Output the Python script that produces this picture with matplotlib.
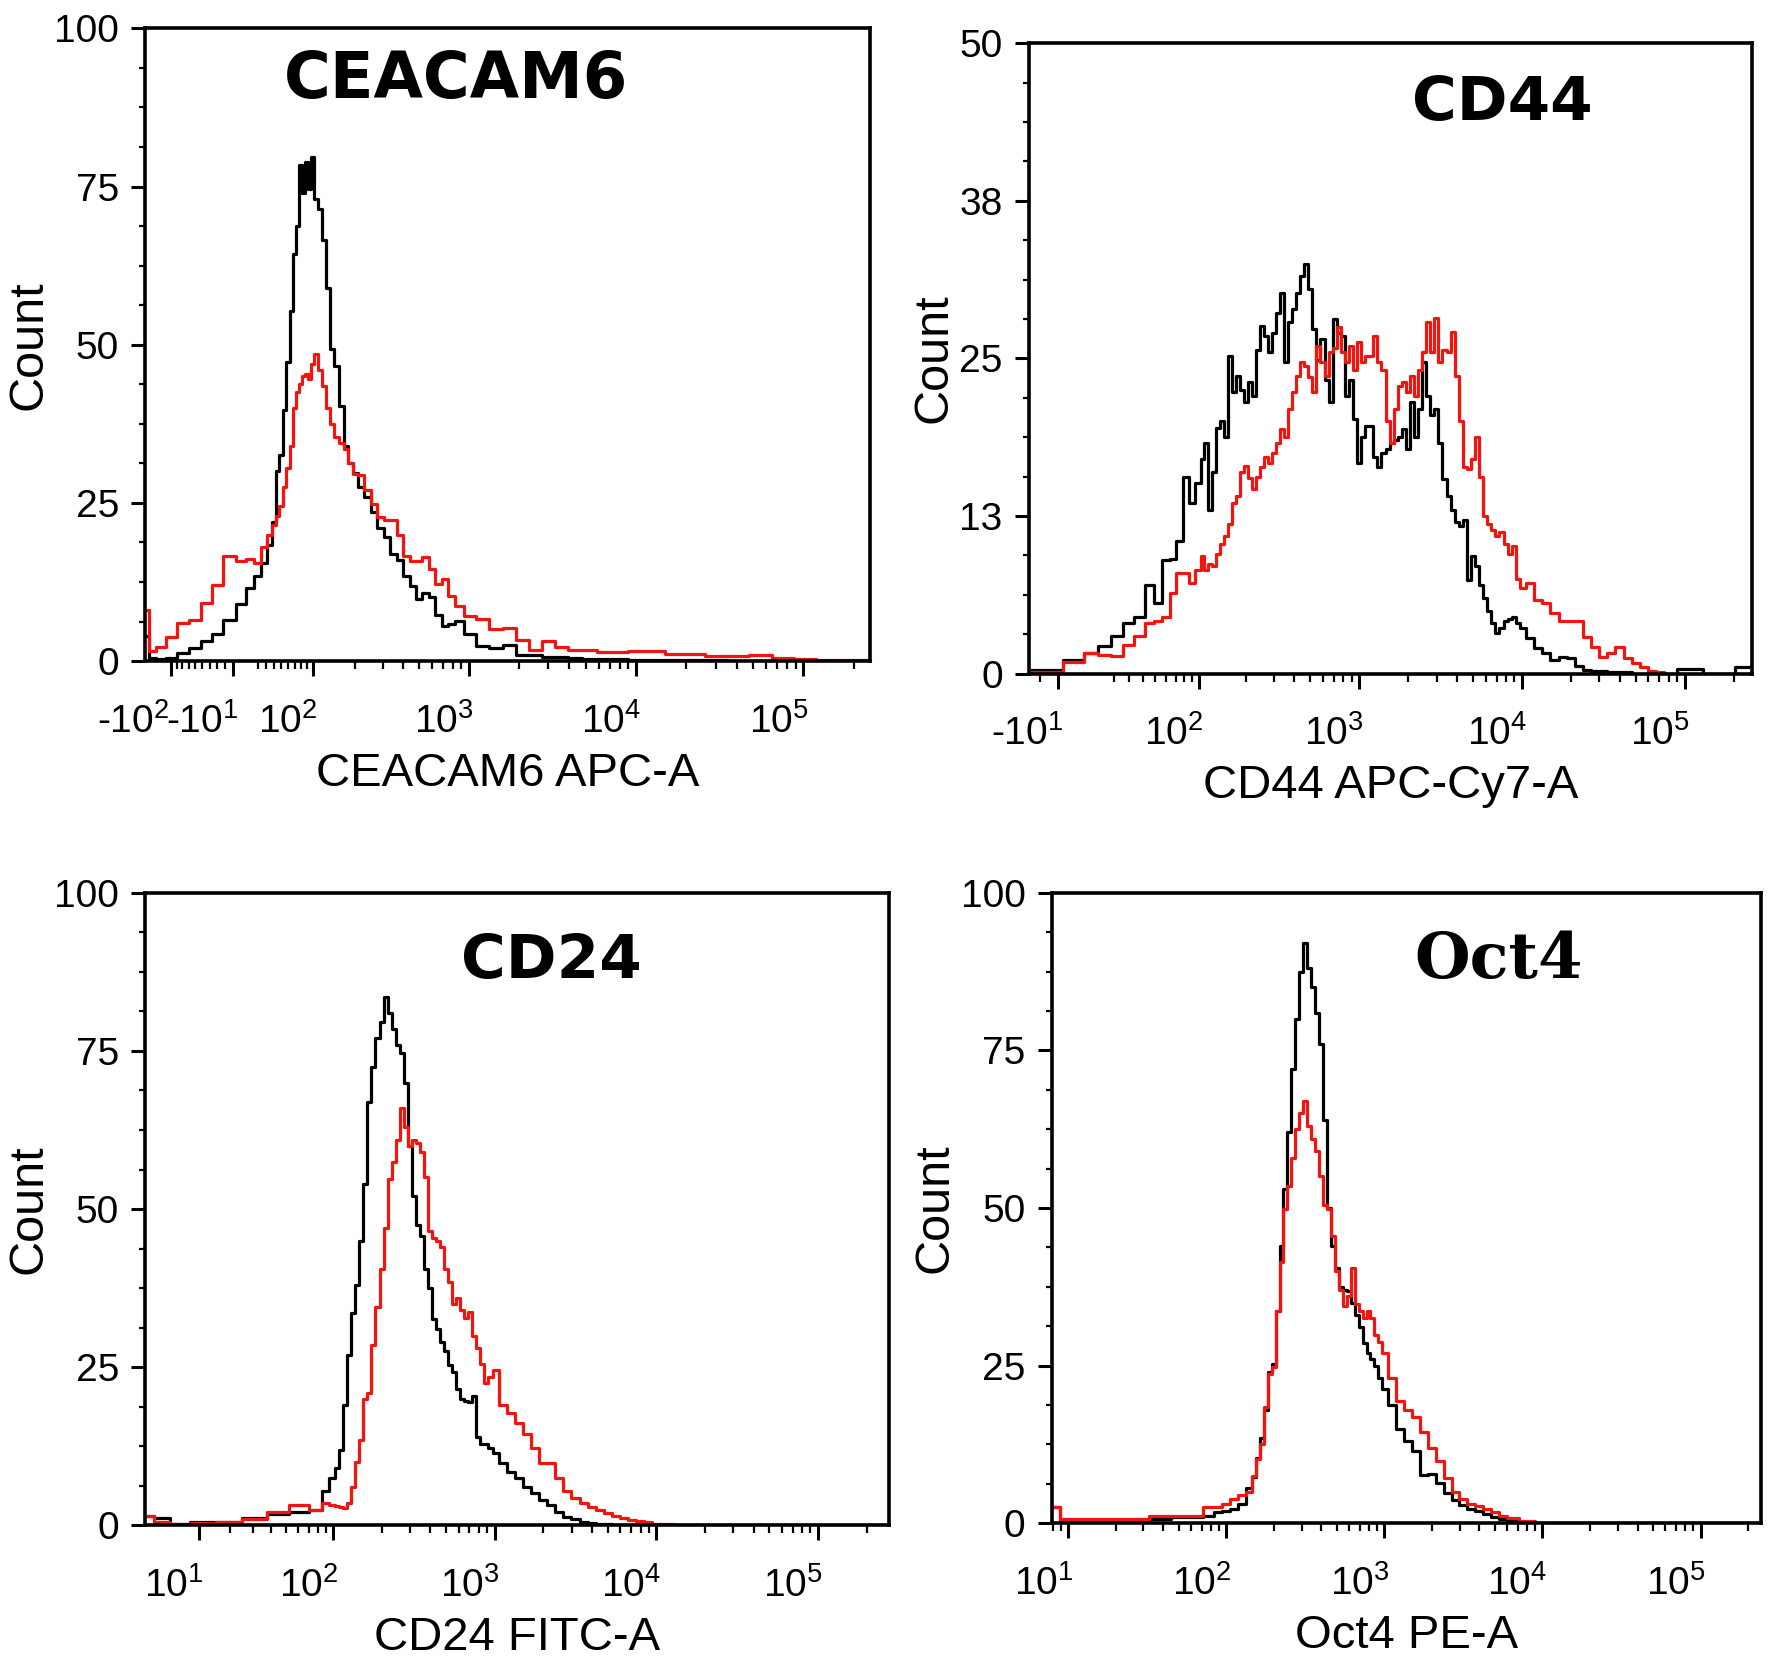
import numpy as np
import matplotlib
matplotlib.use("Agg")
import matplotlib.pyplot as plt
from matplotlib import font_manager
from matplotlib.ticker import AutoMinorLocator, NullFormatter
from matplotlib.transforms import ScaledTranslation

try:
    font_manager.findfont(font_manager.FontProperties(family='Liberation Sans Narrow'),
                          fallback_to_default=False)
    NARROW = True
except Exception:
    NARROW = False

plt.rcParams['font.family'] = ['Liberation Sans', 'DejaVu Sans']
plt.rcParams['mathtext.fontset'] = 'custom'
tick_family = 'Liberation Sans Narrow' if NARROW else 'Liberation Sans'
plt.rcParams['mathtext.rm'] = tick_family
plt.rcParams['mathtext.it'] = tick_family + ':italic'
plt.rcParams['mathtext.bf'] = tick_family + ':bold'
TICK_SIZE = 32 if NARROW else 28

# ---------------- data (fluorescence intensity bins, cell counts) ----------------
cea_x = [-150, -140, -120, -100, -80, -60, -45, -30, -15, 0, 10, 20, 28, 35, 40, 45, 50, 55, 60,
         65, 70, 75, 80, 85, 90, 95, 100, 107, 115, 122, 130, 140, 150, 162, 175, 187, 200, 220,
         240, 265, 290, 320, 350, 385, 420, 460, 500, 550, 600, 660, 720, 790, 860, 1000, 1200,
         1450, 1750, 2100, 2500, 3000, 3600, 4300, 5200, 6500, 8000, 10000, 13000, 17000, 22000,
         30000, 40000, 55000, 75000, 100000, 140000, 190000, 250000]
cea_black = [4.0, 0.5, 0.3, 0.5, 1.3, 2.0, 3.2, 4.3, 6.5, 9.0, 11.5, 13.4, 15.5, 18.3, 22.0,
             30.0, 32.5, 39.7, 47.2, 55.3, 64.4, 68.7, 78.4, 74.0, 78.9, 74.6, 79.7, 73.0, 71.4,
             66.6, 59.0, 49.4, 46.7, 40.3, 34.0, 31.3, 29.7, 27.5, 26.0, 23.5, 21.0, 19.6, 17.0,
             15.9, 13.5, 11.9, 9.8, 10.8, 10.2, 7.3, 5.6, 5.8, 6.3, 4.3, 2.4, 2.0, 2.6, 0.9, 1.0,
             0.6, 0.7, 0.5, 0.3, 0.3, 0.3, 0.2, 0.1, 0.1, 0.1, 0.1, 0, 0, 0, 0, 0, 0, 0]
cea_red = [8.0, 1.6, 2.2, 3.8, 6.0, 6.5, 9.1, 12.0, 16.6, 15.8, 16.1, 15.5, 18.0, 19.9, 21.5,
           23.0, 24.5, 27.5, 30.5, 34.0, 40.0, 42.5, 43.8, 45.0, 45.4, 44.6, 47.0, 48.5, 46.0,
           43.5, 40.0, 37.5, 35.4, 34.5, 33.5, 31.3, 29.5, 29.4, 27.0, 24.8, 22.8, 22.3, 22.3,
           20.0, 16.6, 15.8, 15.8, 16.5, 14.5, 12.2, 13.0, 10.3, 8.7, 7.2, 6.6, 5.1, 5.3, 3.3,
           1.7, 3.1, 2.2, 1.7, 1.7, 1.5, 1.4, 1.6, 1.6, 1.1, 1.1, 0.8, 0.8, 1.0, 0.5, 0.3, 0.2,
           0.1, 0.1]

cd44_x = [-25, -15, 0, 7, 15, 22, 30, 37, 45, 52, 60, 67, 75, 82, 90,
          100, 106, 112, 119, 126, 133, 141, 150, 158, 168, 178, 188, 200, 211, 224, 237, 251,
          266, 282, 299, 316, 335, 355, 376, 398, 422, 447, 473, 501, 531, 562, 596, 631, 668,
          708, 750, 794, 841, 891, 944, 1000, 1059, 1122, 1189, 1259, 1334, 1413, 1496, 1585,
          1679, 1778, 1884, 1995, 2113, 2239, 2371, 2512, 2661, 2818, 2985, 3162, 3350, 3548,
          3758, 3981, 4217, 4467, 4732, 5012, 5309, 5623, 5957, 6310, 6683, 7079, 7499, 7943,
          8414, 8913, 9441, 10000,
          11220, 12589, 14125, 15849, 17783, 19953, 22387, 25119, 28184, 31623, 35481, 39811,
          44668, 50119, 56234, 63096, 70795, 79433, 100000, 158000, 250000]
cd44_black = [0.3, 0.3, 1.1, 1.6, 2.2, 3.0, 4.0, 4.5, 7.0, 5.6, 9.0, 9.1, 10.5, 15.6, 13.5,
              15.1, 17, 18.3, 13, 16, 19.5, 20, 18.8, 25.2, 22.3, 23.6, 22.5, 21.5, 23.1, 22,
              25.7, 27.6, 26.8, 25.5, 27, 28.6, 30.2, 24.7, 27.9, 28.9, 30.2, 31.5, 32.5, 30.5,
              27.3, 24.9, 26.5, 23.3, 21.5, 28.1, 27, 26.8, 22, 23.3, 20.2, 16.7, 18.8, 19.6,
              19.6, 17.2, 16.4, 17.5, 17.8, 18.3, 18.5, 18.8, 19.4, 17.8, 21.5, 18.8, 21, 24.7,
              22, 20.5, 21, 18.3, 15.4, 14.1, 13, 12, 11.7, 12.2, 7.4, 9.3, 8.5, 7, 6, 5, 4, 3.2,
              3.6, 4.2, 4.3, 4.5, 4.0, 3.6,
              2.8, 2.0, 1.6, 1.1, 1.3, 1.2, 0.6, 0.3, 0.2, 0.2, 0.1, 0.1, 0.1, 0, 0, 0, 0, 0,
              0.4, 0, 0.5]
cd44_red = [0.1, 0.1, 0.9, 1.6, 1.5, 1.4, 2.3, 3.0, 4.0, 4.2, 4.5, 6.4, 8.0, 8.0, 7.2,
            8.2, 9.3, 8.2, 8.7, 8.5, 9.5, 10.3, 10.9, 11.9, 13.5, 14.1, 16, 16.5, 15.5, 14.6,
            15.6, 16.4, 17.2, 16.7, 17.5, 18.3, 19.4, 18.8, 21, 22.3, 23.6, 24.7, 24.4, 23.5,
            22.3, 26, 24.7, 23.6, 25.5, 25.8, 27.5, 25.5, 24.7, 26, 24.1, 26.3, 24.7, 25.2, 25.2,
            26.8, 24.7, 24.1, 20, 18.3, 21, 22.8, 23.1, 22.3, 23.6, 22, 24.1, 25.5, 27.9, 25.5,
            28.2, 24.7, 25.7, 25.5, 27.1, 23.6, 20, 16.4, 16.2, 17, 18.8, 15.6, 12.5, 11.9, 11.4,
            10.9, 11.2, 10.3, 9.5, 10.1, 7.5, 6.8,
            7.2, 5.8, 5.6, 4.8, 4.2, 4.2, 4.2, 2.9, 2.1, 1.3, 1.6, 2.1, 1.2, 0.8, 0.5, 0.2, 0.1,
            0, 0, 0, 0]

cd24_x = [-3, 0, 5, 10, 20, 30, 45, 60, 80, 89,
          100, 106, 112, 119, 126, 133, 141, 150, 158, 168, 178, 188, 200, 211, 224, 237, 251,
          266, 282, 299, 316, 335, 355, 376, 398, 422, 447, 473, 501, 531, 562, 596, 631, 668,
          708, 750, 794, 841, 891, 944, 1000,
          1122, 1259, 1413, 1585, 1778, 1995, 2239, 2512, 2818, 3162, 3548, 3981, 4467, 5012,
          5623, 6310, 7079, 7943, 8913, 10000,
          15849, 25119, 39811, 63096, 100000, 158489, 270000]
cd24_black = [1.5, 1.2, 0.3, 0.5, 0.6, 1.2, 1.8, 2.1, 2.4, 5.5,
              7.5, 9, 12, 19, 27, 33.5, 38, 45, 54, 67, 72.5, 77, 79.5, 83.5, 81, 78.5, 76, 74.6,
              70, 60, 52, 47.5, 45.8, 40.5, 37.5, 32.6, 31, 29, 27.5, 25.4, 24.2, 21.5, 20, 19.7,
              19.5, 20.5, 14, 12.9, 12.9, 12.3, 11.5,
              9.9, 8.5, 7.5, 6.0, 5.2, 4.0, 3.3, 2.2, 1.4, 1.0, 0.6, 0.4, 0.3, 0.2, 0.1, 0, 0, 0,
              0, 0,
              0, 0, 0, 0, 0, 0, 0]
cd24_red = [1.5, 0.6, 0.3, 0.4, 0.6, 1.0, 2.2, 3.3, 2.4, 3.5,
            3.2, 3.0, 2.9, 2.7, 3.5, 6, 10, 13.5, 20, 21, 28.5, 34.5, 40.5, 47, 54.8, 57.5, 61,
            66, 63, 60, 61, 60.5, 59, 55, 46.5, 45.5, 45, 44, 40.6, 38.5, 35, 36, 34, 32.8, 33.8,
            30, 28, 25.5, 22.5, 23.5, 24.5,
            19, 17.8, 16.2, 14.5, 12.2, 9.8, 9.9, 7.5, 5.5, 4.4, 3.6, 2.9, 2.4, 2.0, 1.5, 1.2,
            0.9, 0.7, 0.5, 0.2,
            0, 0, 0, 0, 0, 0, 0]

oct4_x = [7.9, 10, 15.8, 25.1, 39.8, 50.1, 63.1, 79.4, 89.1, 100, 112, 126, 141, 150, 158, 168,
          178, 188, 200, 211, 224, 237, 251, 266, 282, 299, 316, 335, 355, 376, 398, 422, 447,
          473, 501, 531, 562, 596, 631, 668, 708, 750, 794, 841, 891, 944, 1000, 1122, 1259,
          1413, 1585, 1778, 1995, 2239, 2512, 2818, 3162, 3548, 3981, 4467, 5012, 5623, 6310,
          7943, 10000, 15849, 31623, 100000, 240000]
oct4_black = [2.5, 0.4, 0.3, 0.3, 0.6, 0.9, 0.9, 1.2, 1.7, 1.9, 2.2, 3.0, 5.5, 7.3, 10.3, 13.5,
              18, 24, 25.3, 33.6, 44, 53, 62, 72, 80, 87.5, 92, 88, 85, 81, 76, 64, 50, 44, 40.5,
              37.5, 37, 36.8, 35, 33, 31.1, 28.5, 27, 26, 24.9, 23, 21.3, 18.7, 15, 13.1, 11.5,
              7.6, 7.8, 6.4, 4.8, 3.7, 2.9, 2.3, 1.9, 1.4, 0.9, 0.6, 0.4, 0.1, 0, 0, 0, 0, 0]
oct4_red = [2.5, 0.6, 0.6, 0.6, 1.2, 1.2, 1.2, 2.5, 2.5, 3.0, 3.9, 4.4, 5.0, 7.5, 10.2, 12.6,
            18.5, 23.6, 24.8, 33.6, 41.5, 49.8, 53.5, 58, 62.5, 65, 67, 63, 61, 59, 55, 50.5,
            49.8, 45.5, 40, 37, 34.5, 36, 40.4, 34.8, 33.6, 32.6, 33.6, 32.5, 29.9, 28.8, 27, 23,
            19.3, 18, 16.9, 14.4, 12, 9.9, 7.2, 5, 3.8, 3.1, 2.8, 2.2, 1.7, 1.2, 0.8, 0.3, 0.1,
            0, 0, 0, 0]

titles = ["CEACAM6", "CD44", "CD24", "Oct4"]
xlabels = ["CEACAM6 APC-A", "CD44 APC-Cy7-A", "CD24 FITC-A", "Oct4 PE-A"]
xticks_list = [[-100, -10, 100, 1000, 10000, 100000],
               [-10, 100, 1000, 10000, 100000],
               [10, 100, 1000, 10000, 100000],
               [10, 100, 1000, 10000, 100000]]
yticks_100 = [0, 25, 50, 75, 100]
ylabels_100 = ["0", "25", "50", "75", "100"]
yticks_50 = [0, 12.5, 25, 37.5, 50]
ylabels_50 = ["0", "13", "25", "38", "50"]

# ---------------- figure ----------------
fig = plt.figure(figsize=(17.72, 16.64), dpi=100)

W, H = 1560.0, 1465.0
def box(l, r, t, b):
    return [l / W, 1 - b / H, (r - l) / W, (b - t) / H]

panels = [
    dict(rect=box(128, 766, 25, 582), x=cea_x, k=cea_black, r=cea_red, scale=('asinh', 88),
         xlim=(-154, 2.51e5), ylim=(0, 100), yt=yticks_100, yl=ylabels_100,
         tpos=(0.429, 0.919), tfam='DejaVu Sans', tsize=46),
    dict(rect=box(906, 1542, 38, 593), x=cd44_x, k=cd44_black, r=cd44_red, scale=('asinh', 37),
         xlim=(-27, 2.58e5), ylim=(0, 50), yt=yticks_50, yl=ylabels_50,
         tpos=(0.655, 0.905), tfam='DejaVu Sans', tsize=44),
    dict(rect=box(128, 783, 786, 1343), x=cd24_x, k=cd24_black, r=cd24_red, scale=('asinh', 17),
         xlim=(-3.5, 2.77e5), ylim=(0, 100), yt=yticks_100, yl=ylabels_100,
         tpos=(0.545, 0.892), tfam='DejaVu Sans', tsize=44),
    dict(rect=box(926, 1550, 786, 1341), x=oct4_x, k=oct4_black, r=oct4_red, scale=('log', None),
         xlim=(7.9, 2.4e5), ylim=(0, 100), yt=yticks_100, yl=ylabels_100,
         tpos=(0.630, 0.892), tfam='DejaVu Serif', tsize=46),
]

def sup(v):
    e = int(round(np.log10(abs(v))))
    return ('-$10^{%d}$' % e) if v < 0 else ('$10^{%d}$' % e)

def minor_vals(lo, hi, start):
    out = []
    for e in range(start, 6):
        for m in range(2, 10):
            v = m * 10 ** e
            if lo < v < hi:
                out.append(v)
            if lo < -v < hi:
                out.append(-v)
    return sorted(out)

for i, p in enumerate(panels):
    ax = fig.add_axes(p['rect'])
    name, a = p['scale']
    if name == 'asinh':
        ax.set_xscale('asinh', linear_width=a)
        ax.set_xticks(minor_vals(p['xlim'][0], p['xlim'][1], 1), minor=True)
    else:
        ax.set_xscale('log')
        ax.set_xticks(minor_vals(p['xlim'][0], p['xlim'][1], 0), minor=True)
    ax.plot(p['x'], p['k'], drawstyle='steps-mid', color='black', lw=2.3, zorder=3)
    ax.plot(p['x'], p['r'], drawstyle='steps-mid', color='#f2140f', lw=2.3, zorder=4)
    ax.set_xlim(*p['xlim'])
    ax.set_ylim(*p['ylim'])
    xt = xticks_list[i]
    ax.set_xticks(xt, [sup(v) for v in xt])
    ax.xaxis.set_minor_formatter(NullFormatter())
    ax.set_yticks(p['yt'], p['yl'])
    ax.yaxis.set_minor_locator(AutoMinorLocator(4))
    for s in ax.spines.values():
        s.set_linewidth(2.6)
        s.set_zorder(5)
    ax.tick_params(axis='x', which='major', direction='out', length=11, width=2.2,
                   labelsize=TICK_SIZE, pad=19)
    ax.tick_params(axis='x', which='minor', direction='out', length=6, width=1.6)
    ax.tick_params(axis='y', which='major', direction='out', length=10, width=2.2,
                   labelsize=TICK_SIZE, pad=9)
    ax.tick_params(axis='y', which='minor', direction='out', length=4, width=1.6)
    for lab in ax.get_yticklabels():
        lab.set_family([tick_family, 'Liberation Sans'])
    # tick labels sit just left of their ticks, as in the reference
    for v, lab in zip(xt, ax.get_xticklabels()):
        dx = -0.02 if v == -100 else 0.05
        lab.set_family([tick_family, 'Liberation Sans'])
        lab.set_horizontalalignment('right')
        lab.set_transform(lab.get_transform() + ScaledTranslation(dx, 0, fig.dpi_scale_trans))
    ax.set_xlabel(xlabels[i], fontsize=34, labelpad=8)
    ax.set_ylabel("Count", fontsize=35, labelpad=2)
    ax.text(p['tpos'][0], p['tpos'][1], titles[i], transform=ax.transAxes,
            ha='center', va='center', fontsize=p['tsize'], fontweight='bold',
            family=p['tfam'], zorder=6)

fig.savefig("out.png", dpi=100, facecolor='white')
